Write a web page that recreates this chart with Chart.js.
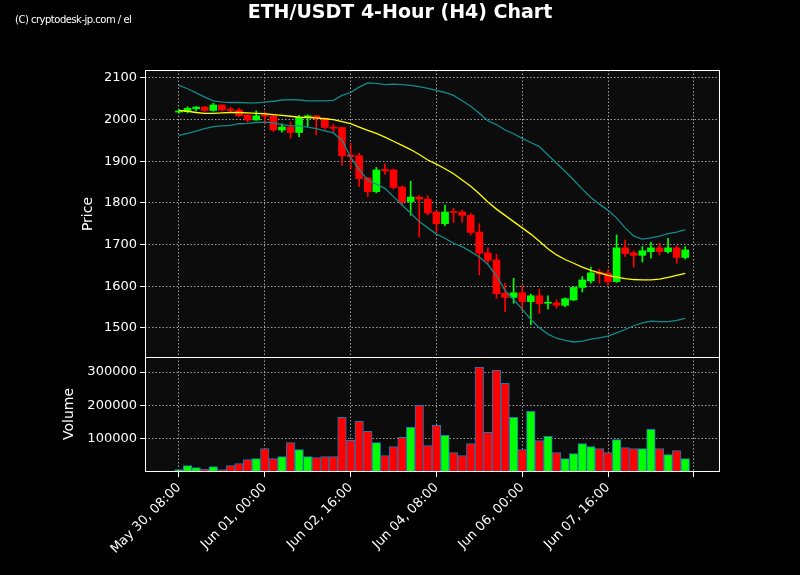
<!DOCTYPE html>
<html><head><meta charset="utf-8">
<script src="https://cdn.jsdelivr.net/npm/chart.js@4/dist/chart.umd.min.js"></script>
<style>body{margin:0;background:#000;}#w{position:relative;width:800px;height:575px;}
#t{position:absolute;top:0;left:0;width:800px;text-align:center;color:#fff;font:bold 19px "DejaVu Sans";line-height:22px;}
#c{position:absolute;top:14px;left:15px;color:#fff;font:10px "DejaVu Sans";letter-spacing:-0.5px;}
.yt{position:absolute;color:#fff;font:14px "DejaVu Sans";transform:translate(-50%,-50%) rotate(-90deg);white-space:nowrap;}
canvas{position:absolute;top:0;left:0;}</style></head>
<body><div id="w"><canvas id="cv" width="800" height="575"></canvas><div id="t">ETH/USDT 4-Hour (H4) Chart</div><div id="c">(C) cryptodesk-jp.com / el</div>
<div class="yt" style="left:87px;top:214px">Price</div><div class="yt" style="left:68px;top:414px">Volume</div></div>
<script>
const openP=[2018,2019,2026,2030,2022,2035,2025,2023,2011,1999,2009,2009,1975,1982,1969,2005,2009,2003,1982,1981,1915,1913,1860,1827,1880,1879,1838,1803,1814,1809,1778,1750,1779,1778,1770,1730,1680,1663,1583,1573,1584,1563,1577,1559,1560,1554,1567,1597,1613,1634,1631,1611,1692,1680,1674,1683,1692,1683,1692,1669];
const closeP=[2020,2027,2030,2022,2035,2023,2022,2009,1999,2009,2008,1975,1982,1969,2006,2009,2002,1981,1979,1913,1911,1858,1827,1879,1877,1837,1803,1814,1809,1776,1750,1778,1777,1770,1729,1679,1662,1582,1573,1584,1563,1577,1558,1561,1554,1570,1597,1615,1632,1629,1611,1692,1678,1674,1685,1692,1683,1692,1669,1687];
const highP=[2024,2031,2031,2032,2039,2036,2030,2027,2012,2021,2019,2010,1990,1994,2010,2011,2010,2004,1989,1982,1943,1919,1861,1885,1893,1881,1841,1852,1817,1817,1780,1795,1787,1783,1775,1750,1692,1677,1607,1619,1601,1581,1593,1577,1567,1572,1599,1623,1646,1641,1639,1723,1711,1685,1695,1705,1703,1715,1697,1695];
const lowP=[2016,2016,2021,2020,2020,2021,2018,2007,1994,1998,1989,1971,1970,1955,1959,1983,1963,1977,1971,1890,1881,1839,1815,1824,1869,1833,1794,1770,1718,1771,1729,1745,1753,1753,1723,1627,1655,1571,1539,1559,1541,1507,1535,1545,1547,1550,1565,1586,1607,1607,1603,1609,1671,1646,1658,1667,1675,1679,1655,1665];
const volume=[7000,19000,13000,9000,16000,7000,19000,25000,37000,40000,70000,40000,46000,88000,67000,46000,43000,46000,46000,164000,95000,152000,122000,88000,49000,76000,104000,134000,200000,79000,140000,110000,58000,49000,85000,315000,119000,306000,266000,164000,67000,182000,94000,107000,58000,40000,55000,85000,76000,70000,58000,97000,73000,70000,70000,128000,70000,52000,64000,40000];
const maLine=[2022,2020,2017,2015,2015,2016,2017,2017,2016,2015,2014,2012,2010,2008,2006,2005,2004,2002,2000,1995,1990,1982,1974,1967,1958,1948,1938,1928,1916,1903,1893,1882,1870,1855,1840,1822,1802,1785,1770,1755,1740,1725,1708,1690,1675,1664,1655,1646,1638,1632,1626,1622,1618,1616,1615,1615,1617,1621,1626,1631];
const upperBand=[2082,2074,2064,2054,2045,2042,2041,2041,2040,2040,2042,2044,2047,2048,2047,2045,2045,2045,2046,2058,2065,2078,2088,2087,2084,2085,2084,2082,2079,2075,2070,2065,2058,2045,2032,2015,1997,1988,1975,1966,1955,1945,1935,1915,1895,1876,1855,1833,1813,1797,1782,1764,1740,1720,1713,1716,1720,1726,1730,1736];
const lowerBand=[1962,1967,1972,1978,1983,1985,1986,1990,1991,1993,1994,1992,1988,1985,1985,1982,1978,1973,1968,1950,1910,1880,1855,1845,1835,1815,1795,1775,1755,1740,1725,1715,1703,1695,1683,1670,1652,1625,1590,1568,1545,1520,1500,1485,1475,1470,1466,1468,1473,1476,1480,1488,1496,1505,1512,1516,1515,1515,1518,1523];
const priceTicks=[1500,1600,1700,1800,1900,2000,2100];
const volTicks=[100000,200000,300000];
const xTicks=[0,10,20,30,40,50,60];
const startTime=Date.UTC(2023,4,30,8,0);
const months=['Jan','Feb','Mar','Apr','May','Jun','Jul','Aug','Sep','Oct','Nov','Dec'];
function lab(i){if(i>=60)return '';const d=new Date(startTime+i*4*3600e3);const p=n=>String(n).padStart(2,'0');return months[d.getUTCMonth()]+' '+p(d.getUTCDate())+', '+p(d.getUTCHours())+':00';}
const idx=openP.map((_,i)=>i);
const col=idx.map(i=>closeP[i]>=openP[i]?'#00ff00':'#ff0000');
const grid={color:'#a0a0a0',lineWidth:1,drawTicks:true,tickColor:'#fff',tickLength:5,offset:false};
const brd={display:false,dash:[1.5,2]};
const bg={id:'bg',beforeDraw(c){const a=c.chartArea,x=c.ctx;x.save();x.fillStyle='#0c0c0c';x.fillRect(a.left,a.top,a.right-a.left,a.bottom-a.top);x.restore();},
afterDraw(c){const a=c.chartArea,x=c.ctx,yv=c.scales.yv;x.save();x.strokeStyle='#fff';x.lineWidth=1;x.strokeRect(a.left+.5,a.top+.5,a.right-a.left-1,a.bottom-a.top-1);x.beginPath();x.moveTo(a.left,Math.round(yv.top)+.5);x.lineTo(a.right,Math.round(yv.top)+.5);x.stroke();x.restore();}};
new Chart(document.getElementById('cv'),{
type:'bar',
data:{datasets:[
{type:'line',label:'MA',data:idx.map(i=>({x:i,y:maLine[i]})),borderColor:'#ffff00',borderWidth:1.3,pointRadius:0,yAxisID:'yp',order:0},
{type:'line',label:'U',data:idx.map(i=>({x:i,y:upperBand[i]})),borderColor:'#138a8a',borderWidth:1.3,pointRadius:0,yAxisID:'yp',order:0},
{type:'line',label:'L',data:idx.map(i=>({x:i,y:lowerBand[i]})),borderColor:'#138a8a',borderWidth:1.3,pointRadius:0,yAxisID:'yp',order:0},
{label:'body',data:idx.map(i=>({x:i,y:[openP[i],closeP[i]]})),backgroundColor:col,borderColor:col,borderWidth:0,barThickness:7,yAxisID:'yp',grouped:false,order:1,minBarLength:1},
{label:'wick',data:idx.map(i=>({x:i,y:[lowP[i],highP[i]]})),backgroundColor:col,barThickness:1,yAxisID:'yp',grouped:false,order:2},
{label:'vol',data:idx.map(i=>({x:i,y:volume[i]})),backgroundColor:col,borderColor:'#1f77b4',borderWidth:1,barThickness:8.6,yAxisID:'yv',grouped:false,order:1}
]},
options:{responsive:false,animation:false,events:[],
layout:{padding:{top:70,right:80,left:0,bottom:0}},
plugins:{legend:{display:false},tooltip:{enabled:false}},
scales:{
x:{type:'linear',offset:false,min:-3.96,max:63.05,afterBuildTicks(s){s.ticks=xTicks.map(v=>({value:v}));},
 ticks:{color:'#fff',font:{family:'DejaVu Sans',size:13},maxRotation:45,minRotation:45,autoSkip:false,callback:v=>lab(v)},
 grid:grid,border:brd,afterFit(s){s.height=103;}},
yv:{type:'linear',position:'left',stack:'s',stackWeight:115,min:0,max:345000,
 afterBuildTicks(s){s.ticks=volTicks.map(v=>({value:v}));},
 ticks:{color:'#fff',font:{family:'DejaVu Sans',size:13},callback:v=>String(v)},
 grid:grid,border:brd,afterFit(s){s.width=145;}},
yp:{type:'linear',position:'left',stack:'s',stackWeight:287,min:1430,max:2119,
 afterBuildTicks(s){s.ticks=priceTicks.map(v=>({value:v}));},
 ticks:{color:'#fff',font:{family:'DejaVu Sans',size:13},callback:v=>String(v)},
 grid:grid,border:brd,afterFit(s){s.width=145;}}
}},
plugins:[bg]});
</script></body></html>
